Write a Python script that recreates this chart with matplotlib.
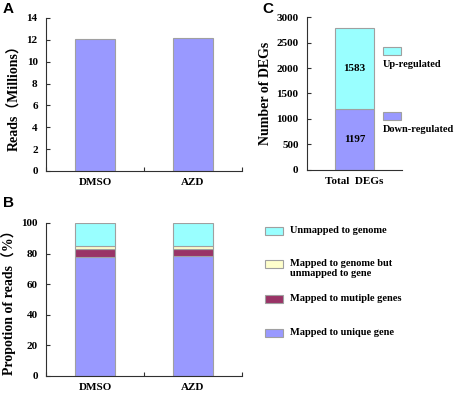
#!/usr/bin/env python
# -*- coding: utf-8 -*-

import matplotlib
matplotlib.use("Agg")
import matplotlib.pyplot as plt
from matplotlib.patches import Rectangle

samples = ["DMSO", "AZD"]
reads_millions = [12.1, 12.2]

# proportion of reads (%), bottom to top
unique_gene = [77.5, 78.5]
multiple_genes = [5.5, 4.5]
genome_not_gene = [2.0, 2.0]
unmapped = [15.0, 15.0]
prop_labels = ["Unmapped to genome", "Mapped to genome but\nunmapped to gene",
               "Mapped to mutiple genes", "Mapped to unique gene"]

deg_down = 1197
deg_up = 1583

BLUE = "#9999ff"
CYAN = "#99ffff"
CREAM = "#ffffcc"
MAROON = "#993366"
EDGE = "#a0a0a0"
SERIF = "Liberation Serif"


def style_axes(ax, ncat):
    for s in ["top", "right"]:
        ax.spines[s].set_visible(False)
    for s in ["left", "bottom"]:
        ax.spines[s].set_color("#303030")
        ax.spines[s].set_linewidth(0.8)
    ax.set_xlim(-0.5, ncat - 0.5)
    ax.set_xticks([i - 0.5 for i in range(ncat + 1)])
    ax.set_xticklabels([])
    ax.tick_params(axis="x", which="major", direction="in", length=3,
                   color="#303030")
    ax.tick_params(axis="y", direction="in", length=3, color="#303030",
                   pad=6, labelsize=8)
    for lab in ax.get_yticklabels():
        lab.set_fontfamily(SERIF)
        lab.set_fontweight("bold")


def cat_labels(ax, labels):
    ax.set_xticks(range(len(labels)), minor=True)
    ax.set_xticklabels(labels, minor=True, fontfamily=SERIF,
                       fontweight="bold", fontsize=8)
    ax.tick_params(axis="x", which="minor", length=0, pad=5)


fig = plt.figure(figsize=(4.54, 3.97), dpi=100)

# panel A
axA = fig.add_axes([0.1013, 0.5693, 0.4317, 0.3854])
axA.bar(range(len(samples)), reads_millions, width=0.41, color=BLUE,
        edgecolor=EDGE, linewidth=0.8)
axA.set_ylim(0, 14)
axA.set_yticks(range(0, 15, 2))
style_axes(axA, len(samples))
cat_labels(axA, samples)
axA.set_ylabel("Reads\uff08Millions\uff09", fontfamily=[SERIF, "Noto Sans CJK SC"],
               fontweight="bold", fontsize=10, labelpad=4)

# panel B
axB = fig.add_axes([0.1013, 0.0529, 0.4317, 0.3854])
x = range(len(samples))
bottom = [0.0] * len(samples)
for vals, col in [(unique_gene, BLUE), (multiple_genes, MAROON),
                  (genome_not_gene, CREAM), (unmapped, CYAN)]:
    axB.bar(x, vals, bottom=bottom, width=0.41, color=col,
            edgecolor=EDGE, linewidth=0.8)
    bottom = [b + v for b, v in zip(bottom, vals)]
axB.set_ylim(0, 100)
axB.set_yticks(range(0, 101, 20))
style_axes(axB, len(samples))
cat_labels(axB, samples)
axB.set_ylabel("Propotion of reads\uff08%\uff09",
               fontfamily=[SERIF, "Noto Sans CJK SC"],
               fontweight="bold", fontsize=10, labelpad=4)

# legend for B
leg_cols = [CYAN, CREAM, MAROON, BLUE]
leg_y = [227, 260, 295, 329]
for lab, col, yy in zip(prop_labels, leg_cols, leg_y):
    fig.patches.append(Rectangle((265 / 454, 1 - (yy + 8) / 397), 18 / 454,
                                 8 / 397, transform=fig.transFigure,
                                 facecolor=col, edgecolor=EDGE, linewidth=0.8))
    fig.text(290 / 454, 1 - (yy - 1) / 397, lab, fontfamily=SERIF,
             fontweight="bold", fontsize=7.5, va="top", ha="left",
             linespacing=1.1)

# panel C
axC = fig.add_axes([0.676, 0.572, 0.209, 0.385])
axC.bar([0], [deg_down], width=0.41, color=BLUE, edgecolor=EDGE,
        linewidth=0.8)
axC.bar([0], [deg_up], bottom=[deg_down], width=0.41, color=CYAN,
        edgecolor=EDGE, linewidth=0.8)
axC.text(0, deg_down / 2, str(deg_down), ha="center", va="center",
         fontfamily=SERIF, fontweight="bold", fontsize=8)
axC.text(0, deg_down + deg_up / 2, str(deg_up), ha="center", va="center",
         fontfamily=SERIF, fontweight="bold", fontsize=8)
axC.set_ylim(0, 3000)
axC.set_yticks(range(0, 3001, 500))
style_axes(axC, 1)
axC.set_xticks([])
axC.tick_params(axis="x", which="major", length=0)
cat_labels(axC, ["Total  DEGs"])
axC.set_ylabel("Number of DEGs", fontfamily=SERIF, fontweight="bold",
               fontsize=10, labelpad=3)

# legend for C
for lab, col, yy in [("Up-regulated", CYAN, 47),
                     ("Down-regulated", BLUE, 112)]:
    fig.patches.append(Rectangle((383 / 454, 1 - (yy + 8) / 397), 18 / 454,
                                 8 / 397, transform=fig.transFigure,
                                 facecolor=col, edgecolor=EDGE, linewidth=0.8))
    fig.text(383 / 454, 1 - (yy + 13) / 397, lab, fontfamily=SERIF,
             fontweight="bold", fontsize=7.5, va="top", ha="left")

# panel letters
for letter, px, py in [("A", 3, 2), ("B", 3, 196), ("C", 262, 2)]:
    fig.text(px / 454, 1 - py / 397, letter, fontfamily="Liberation Sans",
             fontweight="bold", fontsize=11, va="top", ha="left")

fig.savefig("out.png", dpi=100)
